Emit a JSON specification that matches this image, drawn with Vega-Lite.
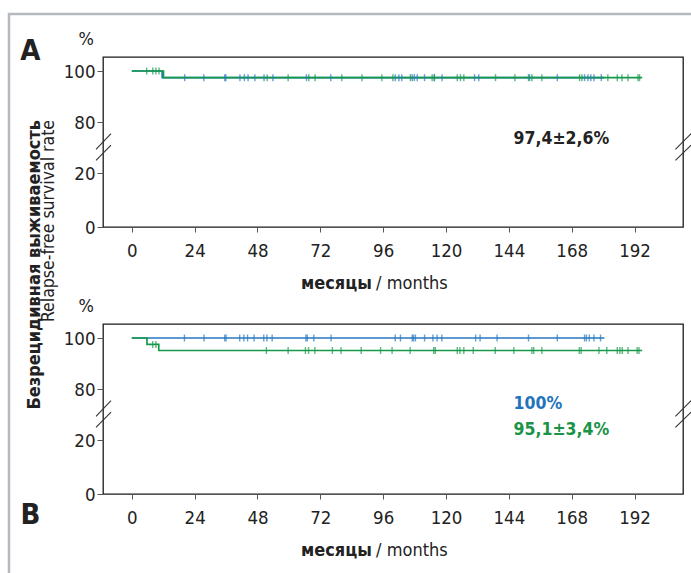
{
  "$schema": "https://vega.github.io/schema/vega-lite/v6.json",
  "padding": {"left": 7, "top": 12, "right": 0, "bottom": 0},
  "bounds": "flush",
  "spacing": 97,
  "config": {
    "view": {"stroke": "#1a1a1a", "strokeWidth": 1.3},
    "font": "DejaVu Sans Condensed, sans-serif",
    "axis": {
      "labelFont": "DejaVu Sans Condensed, sans-serif",
      "labelFontSize": 18.5,
      "labelColor": "#222222",
      "tickColor": "#555555",
      "tickWidth": 1,
      "domain": false,
      "grid": false
    },
    "text": {"font": "DejaVu Sans Condensed, sans-serif", "color": "#222222"}
  },
  "datasets": {
    "curves": [
      {"panel": "A", "group": "blue", "t": 0, "s": 100},
      {"panel": "A", "group": "blue", "t": 11.6, "s": 97.4},
      {"panel": "A", "group": "blue", "t": 180.4, "s": 97.4},
      {"panel": "A", "group": "green", "t": 0, "s": 100},
      {"panel": "A", "group": "green", "t": 12.1, "s": 97.4},
      {"panel": "A", "group": "green", "t": 194.9, "s": 97.4},
      {"panel": "B", "group": "blue", "t": 0, "s": 100},
      {"panel": "B", "group": "blue", "t": 180.5, "s": 100},
      {"panel": "B", "group": "green", "t": 0, "s": 100},
      {"panel": "B", "group": "green", "t": 5.8, "s": 97.5},
      {"panel": "B", "group": "green", "t": 10.3, "s": 95.1},
      {"panel": "B", "group": "green", "t": 194.9, "s": 95.1}
    ],
    "censor": [
      {"panel": "A", "group": "blue", "t": 20.2, "s": 97.4},
      {"panel": "A", "group": "blue", "t": 27.5, "s": 97.4},
      {"panel": "A", "group": "blue", "t": 35.5, "s": 97.4},
      {"panel": "A", "group": "blue", "t": 35.9, "s": 97.4},
      {"panel": "A", "group": "blue", "t": 41.3, "s": 97.4},
      {"panel": "A", "group": "blue", "t": 43.0, "s": 97.4},
      {"panel": "A", "group": "blue", "t": 44.4, "s": 97.4},
      {"panel": "A", "group": "blue", "t": 47.0, "s": 97.4},
      {"panel": "A", "group": "blue", "t": 50.5, "s": 97.4},
      {"panel": "A", "group": "blue", "t": 53.9, "s": 97.4},
      {"panel": "A", "group": "blue", "t": 66.7, "s": 97.4},
      {"panel": "A", "group": "blue", "t": 76.0, "s": 97.4},
      {"panel": "A", "group": "blue", "t": 100.6, "s": 97.4},
      {"panel": "A", "group": "blue", "t": 102.0, "s": 97.4},
      {"panel": "A", "group": "blue", "t": 103.1, "s": 97.4},
      {"panel": "A", "group": "blue", "t": 107.1, "s": 97.4},
      {"panel": "A", "group": "blue", "t": 107.9, "s": 97.4},
      {"panel": "A", "group": "blue", "t": 109.0, "s": 97.4},
      {"panel": "A", "group": "blue", "t": 111.8, "s": 97.4},
      {"panel": "A", "group": "blue", "t": 115.6, "s": 97.4},
      {"panel": "A", "group": "blue", "t": 118.5, "s": 97.4},
      {"panel": "A", "group": "blue", "t": 130.9, "s": 97.4},
      {"panel": "A", "group": "blue", "t": 132.5, "s": 97.4},
      {"panel": "A", "group": "blue", "t": 151.9, "s": 97.4},
      {"panel": "A", "group": "blue", "t": 162.5, "s": 97.4},
      {"panel": "A", "group": "blue", "t": 172.9, "s": 97.4},
      {"panel": "A", "group": "blue", "t": 174.2, "s": 97.4},
      {"panel": "A", "group": "blue", "t": 175.3, "s": 97.4},
      {"panel": "A", "group": "blue", "t": 176.5, "s": 97.4},
      {"panel": "A", "group": "blue", "t": 179.3, "s": 97.4},
      {"panel": "A", "group": "green", "t": 5.7, "s": 100},
      {"panel": "A", "group": "green", "t": 8.0, "s": 100},
      {"panel": "A", "group": "green", "t": 9.2, "s": 100},
      {"panel": "A", "group": "green", "t": 10.4, "s": 100},
      {"panel": "A", "group": "green", "t": 51.7, "s": 97.4},
      {"panel": "A", "group": "green", "t": 59.7, "s": 97.4},
      {"panel": "A", "group": "green", "t": 67.6, "s": 97.4},
      {"panel": "A", "group": "green", "t": 70.0, "s": 97.4},
      {"panel": "A", "group": "green", "t": 80.2, "s": 97.4},
      {"panel": "A", "group": "green", "t": 87.9, "s": 97.4},
      {"panel": "A", "group": "green", "t": 95.5, "s": 97.4},
      {"panel": "A", "group": "green", "t": 99.7, "s": 97.4},
      {"panel": "A", "group": "green", "t": 106.4, "s": 97.4},
      {"panel": "A", "group": "green", "t": 114.7, "s": 97.4},
      {"panel": "A", "group": "green", "t": 115.5, "s": 97.4},
      {"panel": "A", "group": "green", "t": 124.3, "s": 97.4},
      {"panel": "A", "group": "green", "t": 125.5, "s": 97.4},
      {"panel": "A", "group": "green", "t": 126.8, "s": 97.4},
      {"panel": "A", "group": "green", "t": 138.9, "s": 97.4},
      {"panel": "A", "group": "green", "t": 146.3, "s": 97.4},
      {"panel": "A", "group": "green", "t": 151.5, "s": 97.4},
      {"panel": "A", "group": "green", "t": 152.8, "s": 97.4},
      {"panel": "A", "group": "green", "t": 156.6, "s": 97.4},
      {"panel": "A", "group": "green", "t": 171.0, "s": 97.4},
      {"panel": "A", "group": "green", "t": 171.9, "s": 97.4},
      {"panel": "A", "group": "green", "t": 181.8, "s": 97.4},
      {"panel": "A", "group": "green", "t": 185.4, "s": 97.4},
      {"panel": "A", "group": "green", "t": 187.2, "s": 97.4},
      {"panel": "A", "group": "green", "t": 189.5, "s": 97.4},
      {"panel": "A", "group": "green", "t": 193.3, "s": 97.4},
      {"panel": "A", "group": "green", "t": 193.9, "s": 97.4},
      {"panel": "B", "group": "blue", "t": 20.1, "s": 100},
      {"panel": "B", "group": "blue", "t": 27.6, "s": 100},
      {"panel": "B", "group": "blue", "t": 35.5, "s": 100},
      {"panel": "B", "group": "blue", "t": 36.0, "s": 100},
      {"panel": "B", "group": "blue", "t": 41.2, "s": 100},
      {"panel": "B", "group": "blue", "t": 42.8, "s": 100},
      {"panel": "B", "group": "blue", "t": 44.2, "s": 100},
      {"panel": "B", "group": "blue", "t": 46.7, "s": 100},
      {"panel": "B", "group": "blue", "t": 50.4, "s": 100},
      {"panel": "B", "group": "blue", "t": 51.6, "s": 100},
      {"panel": "B", "group": "blue", "t": 53.6, "s": 100},
      {"panel": "B", "group": "blue", "t": 66.5, "s": 100},
      {"panel": "B", "group": "blue", "t": 67.0, "s": 100},
      {"panel": "B", "group": "blue", "t": 69.5, "s": 100},
      {"panel": "B", "group": "blue", "t": 76.1, "s": 100},
      {"panel": "B", "group": "blue", "t": 100.6, "s": 100},
      {"panel": "B", "group": "blue", "t": 102.6, "s": 100},
      {"panel": "B", "group": "blue", "t": 107.1, "s": 100},
      {"panel": "B", "group": "blue", "t": 107.6, "s": 100},
      {"panel": "B", "group": "blue", "t": 108.3, "s": 100},
      {"panel": "B", "group": "blue", "t": 111.8, "s": 100},
      {"panel": "B", "group": "blue", "t": 115.0, "s": 100},
      {"panel": "B", "group": "blue", "t": 116.6, "s": 100},
      {"panel": "B", "group": "blue", "t": 118.4, "s": 100},
      {"panel": "B", "group": "blue", "t": 131.3, "s": 100},
      {"panel": "B", "group": "blue", "t": 133.0, "s": 100},
      {"panel": "B", "group": "blue", "t": 139.5, "s": 100},
      {"panel": "B", "group": "blue", "t": 151.5, "s": 100},
      {"panel": "B", "group": "blue", "t": 162.5, "s": 100},
      {"panel": "B", "group": "blue", "t": 172.9, "s": 100},
      {"panel": "B", "group": "blue", "t": 173.6, "s": 100},
      {"panel": "B", "group": "blue", "t": 174.7, "s": 100},
      {"panel": "B", "group": "blue", "t": 176.5, "s": 100},
      {"panel": "B", "group": "blue", "t": 179.0, "s": 100},
      {"panel": "B", "group": "green", "t": 8.0, "s": 97.5},
      {"panel": "B", "group": "green", "t": 9.2, "s": 97.5},
      {"panel": "B", "group": "green", "t": 51.4, "s": 95.1},
      {"panel": "B", "group": "green", "t": 59.7, "s": 95.1},
      {"panel": "B", "group": "green", "t": 66.3, "s": 95.1},
      {"panel": "B", "group": "green", "t": 67.5, "s": 95.1},
      {"panel": "B", "group": "green", "t": 69.9, "s": 95.1},
      {"panel": "B", "group": "green", "t": 76.6, "s": 95.1},
      {"panel": "B", "group": "green", "t": 79.9, "s": 95.1},
      {"panel": "B", "group": "green", "t": 87.6, "s": 95.1},
      {"panel": "B", "group": "green", "t": 95.0, "s": 95.1},
      {"panel": "B", "group": "green", "t": 99.4, "s": 95.1},
      {"panel": "B", "group": "green", "t": 106.3, "s": 95.1},
      {"panel": "B", "group": "green", "t": 115.3, "s": 95.1},
      {"panel": "B", "group": "green", "t": 115.9, "s": 95.1},
      {"panel": "B", "group": "green", "t": 124.3, "s": 95.1},
      {"panel": "B", "group": "green", "t": 125.3, "s": 95.1},
      {"panel": "B", "group": "green", "t": 126.8, "s": 95.1},
      {"panel": "B", "group": "green", "t": 130.4, "s": 95.1},
      {"panel": "B", "group": "green", "t": 138.8, "s": 95.1},
      {"panel": "B", "group": "green", "t": 145.9, "s": 95.1},
      {"panel": "B", "group": "green", "t": 152.8, "s": 95.1},
      {"panel": "B", "group": "green", "t": 153.5, "s": 95.1},
      {"panel": "B", "group": "green", "t": 156.6, "s": 95.1},
      {"panel": "B", "group": "green", "t": 170.9, "s": 95.1},
      {"panel": "B", "group": "green", "t": 171.6, "s": 95.1},
      {"panel": "B", "group": "green", "t": 178.4, "s": 95.1},
      {"panel": "B", "group": "green", "t": 181.4, "s": 95.1},
      {"panel": "B", "group": "green", "t": 185.4, "s": 95.1},
      {"panel": "B", "group": "green", "t": 186.4, "s": 95.1},
      {"panel": "B", "group": "green", "t": 187.3, "s": 95.1},
      {"panel": "B", "group": "green", "t": 189.5, "s": 95.1},
      {"panel": "B", "group": "green", "t": 193.0, "s": 95.1},
      {"panel": "B", "group": "green", "t": 193.7, "s": 95.1}
    ]
  },
  "vconcat": [
    {
      "width": 580,
      "height": 170,
      "layer": [
        {
          "data": {"name": "curves"},
          "transform": [{"filter": "datum.panel === 'A' && datum.group === 'blue'"}],
          "mark": {"type": "line", "interpolate": "step-after", "strokeWidth": 1.7},
          "encoding": {
            "x": {"field": "t", "type": "quantitative", "scale": {"domain": [-11, 210.5], "nice": false, "zero": false},
                  "axis": {"values": [0, 24, 48, 72, 96, 120, 144, 168, 192], "tickSize": 5, "labelPadding": 9, "title": null, "labelFlush": false}},
            "y": {"field": "s", "type": "quantitative", "scale": {"domain": [0, 20, 80, 100, 105.5], "range": [170, 116, 65, 14, 0], "nice": false, "zero": false},
                  "axis": {"values": [0, 20, 80, 100], "tickSize": 6, "labelPadding": 2, "title": null}},
            "color": {"field": "group", "type": "nominal", "scale": {"domain": ["blue", "green"], "range": ["#2577c0", "#17994a"]}, "legend": null}
          }
        },
        {
          "data": {"name": "curves"},
          "transform": [{"filter": "datum.panel === 'A' && datum.group === 'green'"}],
          "mark": {"type": "line", "interpolate": "step-after", "strokeWidth": 1.7},
          "encoding": {
            "x": {"field": "t", "type": "quantitative"},
            "y": {"field": "s", "type": "quantitative"},
            "color": {"field": "group", "type": "nominal", "legend": null}
          }
        },
        {
          "data": {"name": "censor"},
          "transform": [{"filter": "datum.panel === 'A'"}],
          "mark": {"type": "tick", "orient": "vertical", "size": 7, "thickness": 1.4},
          "encoding": {
            "x": {"field": "t", "type": "quantitative"},
            "y": {"field": "s", "type": "quantitative"},
            "color": {"field": "group", "type": "nominal", "legend": null}
          }
        },
        {
          "data": {"values": [{}]},
          "mark": {"type": "rect", "fillOpacity": 0, "stroke": "#b5babe", "strokeWidth": 2.5},
          "encoding": {"x": {"datum": -46.9, "type": "quantitative"}, "x2": {"datum": 300}, "y": {"datum": 122.4, "type": "quantitative"}, "y2": {"datum": -200}}
        },
        {
          "data": {"values": [{}]},
          "mark": {"type": "rule", "stroke": "#333333", "strokeWidth": 1.1},
          "encoding": {"x": {"datum": -13.67, "type": "quantitative"}, "x2": {"datum": -7.94}, "y": {"datum": 47.9, "type": "quantitative"}, "y2": {"datum": 66.2}}
        },
        {
          "data": {"values": [{}]},
          "mark": {"type": "rule", "stroke": "#333333", "strokeWidth": 1.1},
          "encoding": {"x": {"datum": -13.67, "type": "quantitative"}, "x2": {"datum": -7.94}, "y": {"datum": 34.9, "type": "quantitative"}, "y2": {"datum": 52.9}}
        },
        {
          "data": {"values": [{}]},
          "mark": {"type": "rule", "stroke": "#333333", "strokeWidth": 1.1},
          "encoding": {"x": {"datum": 207.6, "type": "quantitative"}, "x2": {"datum": 213.6}, "y": {"datum": 47.9, "type": "quantitative"}, "y2": {"datum": 66.2}}
        },
        {
          "data": {"values": [{}]},
          "mark": {"type": "rule", "stroke": "#333333", "strokeWidth": 1.1},
          "encoding": {"x": {"datum": 207.6, "type": "quantitative"}, "x2": {"datum": 213.6}, "y": {"datum": 34.9, "type": "quantitative"}, "y2": {"datum": 52.9}}
        },
        {
          "data": {"values": [{}]},
          "mark": {"type": "text", "text": "A", "fontSize": 29, "fontWeight": "bold", "align": "center", "baseline": "middle"},
          "encoding": {"x": {"datum": -38.7, "type": "quantitative"}, "y": {"datum": 107.9, "type": "quantitative"}}
        },
        {
          "data": {"values": [{}]},
          "mark": {"type": "text", "text": "%", "fontSize": 18, "align": "center", "baseline": "middle"},
          "encoding": {"x": {"datum": -17.4, "type": "quantitative"}, "y": {"datum": 112.2, "type": "quantitative"}}
        },
        {
          "data": {"values": [{}]},
          "mark": {"type": "text", "text": "Безрецидивная выживаемость", "fontSize": 18, "fontWeight": "bold", "angle": 270, "align": "right", "baseline": "alphabetic"},
          "encoding": {"x": {"datum": -35.06, "type": "quantitative"}, "y": {"datum": 80.8, "type": "quantitative"}}
        },
        {
          "data": {"values": [{}]},
          "mark": {"type": "text", "text": "Relapse-free survival rate", "fontSize": 17.5, "angle": 270, "align": "right", "baseline": "alphabetic"},
          "encoding": {"x": {"datum": -29.6, "type": "quantitative"}, "y": {"datum": 80.8, "type": "quantitative"}}
        },
        {
          "data": {"values": [{}]},
          "mark": {"type": "text", "text": "месяцы", "fontSize": 18, "fontWeight": "bold", "align": "right", "baseline": "alphabetic"},
          "encoding": {"x": {"datum": 91.7, "type": "quantitative"}, "y": {"datum": -22.96, "type": "quantitative"}}
        },
        {
          "data": {"values": [{}]},
          "mark": {"type": "text", "text": "/ months", "fontSize": 18, "align": "left", "baseline": "alphabetic"},
          "encoding": {"x": {"datum": 93.3, "type": "quantitative"}, "y": {"datum": -22.96, "type": "quantitative"}}
        },
        {
          "data": {"values": [{}]},
          "mark": {"type": "text", "text": "97,4±2,6%", "fontSize": 17.5, "fontWeight": "bold", "align": "left", "baseline": "middle", "color": "#222222"},
          "encoding": {"x": {"datum": 145.8, "type": "quantitative"}, "y": {"datum": 60.0, "type": "quantitative"}}
        }
      ]
    },
    {
      "width": 580,
      "height": 170,
      "layer": [
        {
          "data": {"name": "curves"},
          "transform": [{"filter": "datum.panel === 'B' && datum.group === 'blue'"}],
          "mark": {"type": "line", "interpolate": "step-after", "strokeWidth": 1.7},
          "encoding": {
            "x": {"field": "t", "type": "quantitative", "scale": {"domain": [-11, 210.5], "nice": false, "zero": false},
                  "axis": {"values": [0, 24, 48, 72, 96, 120, 144, 168, 192], "tickSize": 5, "labelPadding": 9, "title": null, "labelFlush": false}},
            "y": {"field": "s", "type": "quantitative", "scale": {"domain": [0, 20, 80, 100, 105.5], "range": [170, 116, 65, 14, 0], "nice": false, "zero": false},
                  "axis": {"values": [0, 20, 80, 100], "tickSize": 6, "labelPadding": 2, "title": null}},
            "color": {"field": "group", "type": "nominal", "scale": {"domain": ["blue", "green"], "range": ["#2577c0", "#17994a"]}, "legend": null}
          }
        },
        {
          "data": {"name": "curves"},
          "transform": [{"filter": "datum.panel === 'B' && datum.group === 'green'"}],
          "mark": {"type": "line", "interpolate": "step-after", "strokeWidth": 1.7},
          "encoding": {
            "x": {"field": "t", "type": "quantitative"},
            "y": {"field": "s", "type": "quantitative"},
            "color": {"field": "group", "type": "nominal", "legend": null}
          }
        },
        {
          "data": {"name": "censor"},
          "transform": [{"filter": "datum.panel === 'B'"}],
          "mark": {"type": "tick", "orient": "vertical", "size": 7, "thickness": 1.4},
          "encoding": {
            "x": {"field": "t", "type": "quantitative"},
            "y": {"field": "s", "type": "quantitative"},
            "color": {"field": "group", "type": "nominal", "legend": null}
          }
        },
        {
          "data": {"values": [{}]},
          "mark": {"type": "rule", "stroke": "#333333", "strokeWidth": 1.1},
          "encoding": {"x": {"datum": -13.67, "type": "quantitative"}, "x2": {"datum": -7.94}, "y": {"datum": 47.9, "type": "quantitative"}, "y2": {"datum": 66.2}}
        },
        {
          "data": {"values": [{}]},
          "mark": {"type": "rule", "stroke": "#333333", "strokeWidth": 1.1},
          "encoding": {"x": {"datum": -13.67, "type": "quantitative"}, "x2": {"datum": -7.94}, "y": {"datum": 34.9, "type": "quantitative"}, "y2": {"datum": 52.9}}
        },
        {
          "data": {"values": [{}]},
          "mark": {"type": "rule", "stroke": "#333333", "strokeWidth": 1.1},
          "encoding": {"x": {"datum": 207.6, "type": "quantitative"}, "x2": {"datum": 213.6}, "y": {"datum": 47.9, "type": "quantitative"}, "y2": {"datum": 66.2}}
        },
        {
          "data": {"values": [{}]},
          "mark": {"type": "rule", "stroke": "#333333", "strokeWidth": 1.1},
          "encoding": {"x": {"datum": 207.6, "type": "quantitative"}, "x2": {"datum": 213.6}, "y": {"datum": 34.9, "type": "quantitative"}, "y2": {"datum": 52.9}}
        },
        {
          "data": {"values": [{}]},
          "mark": {"type": "text", "text": "B", "fontSize": 29, "fontWeight": "bold", "align": "center", "baseline": "middle"},
          "encoding": {"x": {"datum": -38.7, "type": "quantitative"}, "y": {"datum": -7.8, "type": "quantitative"}}
        },
        {
          "data": {"values": [{}]},
          "mark": {"type": "text", "text": "%", "fontSize": 18, "align": "center", "baseline": "middle"},
          "encoding": {"x": {"datum": -17.4, "type": "quantitative"}, "y": {"datum": 112.2, "type": "quantitative"}}
        },
        {
          "data": {"values": [{}]},
          "mark": {"type": "text", "text": "месяцы", "fontSize": 18, "fontWeight": "bold", "align": "right", "baseline": "alphabetic"},
          "encoding": {"x": {"datum": 91.7, "type": "quantitative"}, "y": {"datum": -22.96, "type": "quantitative"}}
        },
        {
          "data": {"values": [{}]},
          "mark": {"type": "text", "text": "/ months", "fontSize": 18, "align": "left", "baseline": "alphabetic"},
          "encoding": {"x": {"datum": 93.3, "type": "quantitative"}, "y": {"datum": -22.96, "type": "quantitative"}}
        },
        {
          "data": {"values": [{}]},
          "mark": {"type": "text", "text": "100%", "fontSize": 17.5, "fontWeight": "bold", "align": "left", "baseline": "middle", "color": "#1f74bb"},
          "encoding": {"x": {"datum": 145.8, "type": "quantitative"}, "y": {"datum": 62.35, "type": "quantitative"}}
        },
        {
          "data": {"values": [{}]},
          "mark": {"type": "text", "text": "95,1±3,4%", "fontSize": 17.5, "fontWeight": "bold", "align": "left", "baseline": "middle", "color": "#199447"},
          "encoding": {"x": {"datum": 145.8, "type": "quantitative"}, "y": {"datum": 31.76, "type": "quantitative"}}
        }
      ]
    }
  ]
}
